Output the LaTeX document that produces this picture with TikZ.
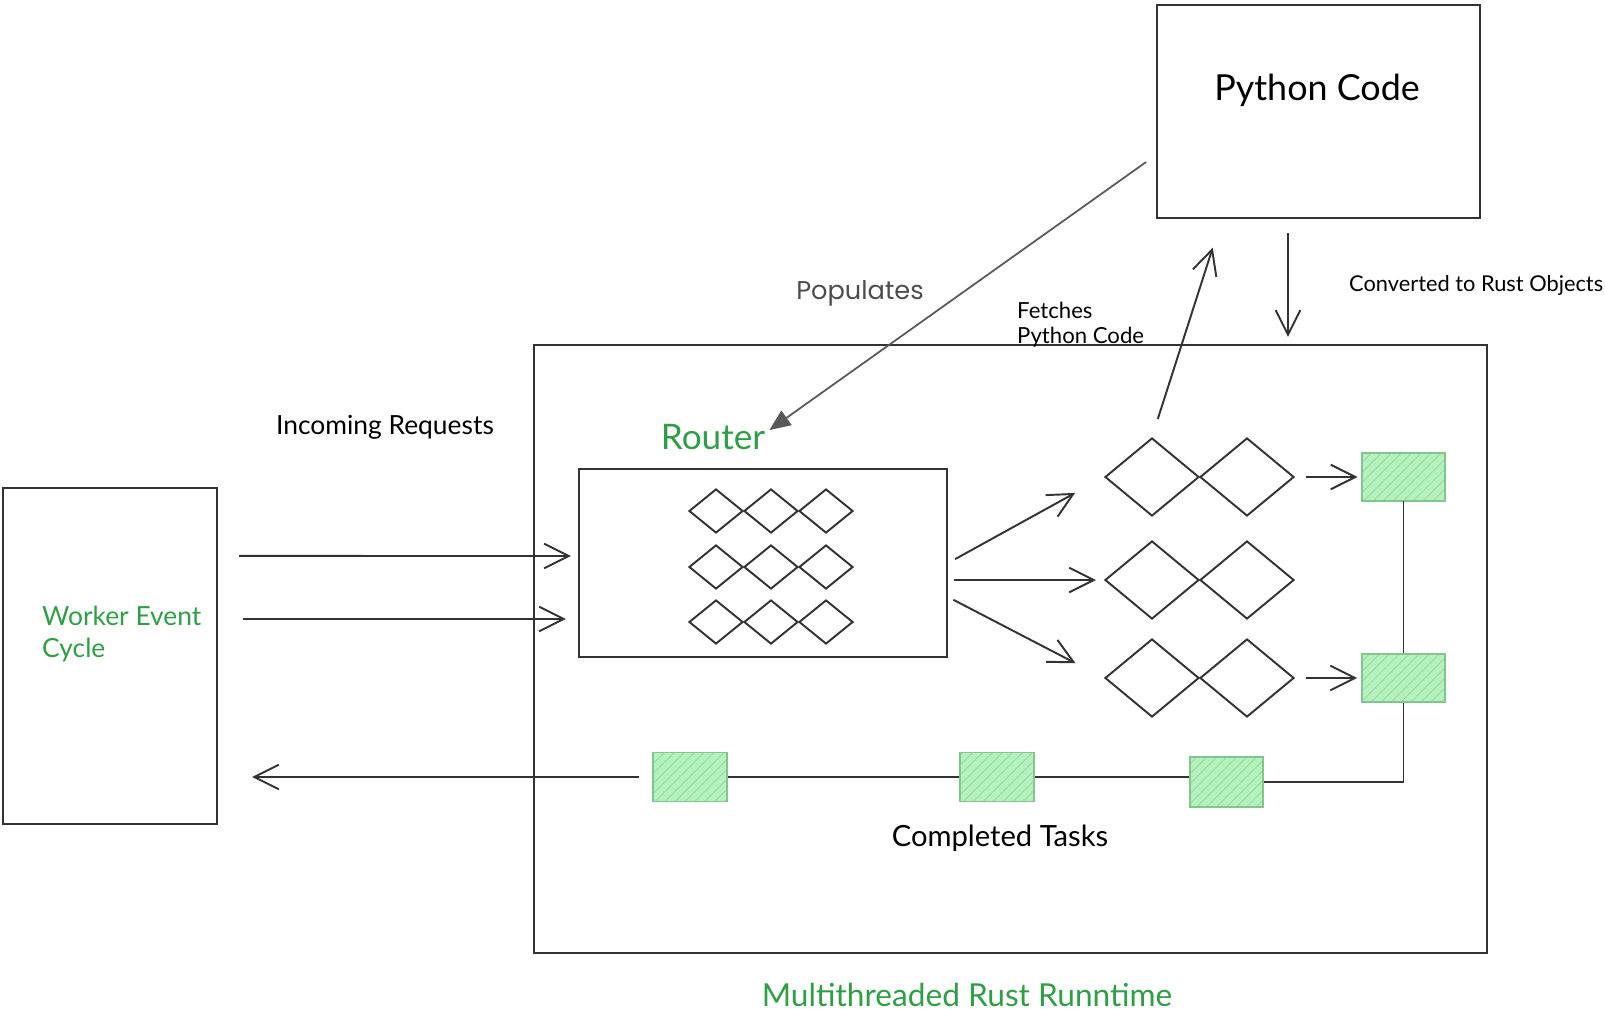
\documentclass[tikz,border=0pt]{standalone}
\usepackage{fontspec}
\setmainfont{Lato}
\newfontfamily\popfont{Poppins}
\usetikzlibrary{shapes.geometric,arrows.meta,patterns.meta}

\definecolor{exgreen}{HTML}{2F9E44}
\definecolor{exfill}{HTML}{B2F2BB}

\begin{document}
\begin{tikzpicture}[x=0.01cm, y=-0.01cm,
    frame/.style={draw=black!80, line width=0.55pt, inner sep=0pt},
    dia/.style={diamond, draw=black!80, line width=0.55pt, inner sep=0pt, minimum width=0.54cm, minimum height=0.44cm},
    bigdia/.style={dia, minimum width=0.94cm, minimum height=0.78cm},
    task/.style={draw=exgreen!60, line width=0.5pt, inner sep=0pt, preaction={fill=exfill},
        pattern={Lines[angle=45,distance=2pt,line width=0.25pt]}, pattern color=exgreen!45},
    link/.style={draw=black!80, line width=0.55pt},
    arr/.style={link, -{Straight Barb[length=7pt,width=7pt]}},
    poparr/.style={draw=black!65, line width=0.5pt, -{Triangle[length=6pt,width=5pt]}},
    txt/.style={inner sep=1pt, font=\fontsize{#1}{#1}\selectfont}]
    \useasboundingbox (0,0) rectangle (1605,1009);

    % boxes
    \node[frame, minimum width=2.14cm, minimum height=3.36cm] (worker) at (110,656) {};
    \node[anchor=west, align=left, text=exgreen, inner sep=1pt, font=\fontsize{7.5}{9.2}\selectfont] (wlabel) at (38,634) {Worker Event\\Cycle};
    \node[frame, minimum width=3.23cm, minimum height=2.13cm] (python) at (1318.5,111.5) {};
    \node[txt=10.2] (ptitle) at (1317,90) {Python Code};
    \node[frame, minimum width=9.53cm, minimum height=6.08cm] (runtime) at (1010.5,649) {};
    \node[txt=9, text=exgreen] (rtitle) at (967,995) {Multithreaded Rust Runntime};
    \node[frame, minimum width=3.68cm, minimum height=1.88cm] (router) at (763,563) {};
    \node[txt=10, text=exgreen] (rlabel) at (713,437) {Router};

    % router queue
    \foreach \y [count=\i] in {511,567,622}
        \foreach \x [count=\j] in {716,771,826}
            \node[dia] (r\i\j) at (\x,\y) {};

    % worker threads
    \foreach \y [count=\i] in {477,580,678} {
        \node[bigdia] (d\i1) at (1152,\y) {};
        \node[bigdia] (d\i2) at (1247,\y) {};
    }

    % finished tasks
    \node[task, minimum width=0.83cm, minimum height=0.48cm] (t1) at (1403.5,477) {};
    \node[task, minimum width=0.83cm, minimum height=0.48cm] (t2) at (1403.5,678) {};
    \node[task, minimum width=0.73cm, minimum height=0.50cm] (b3) at (1226.5,782) {};
    \node[task, minimum width=0.74cm, minimum height=0.49cm] (b2) at (997,777) {};
    \node[task, minimum width=0.74cm, minimum height=0.49cm] (b1) at (690,777) {};

    \draw[arr, shorten <=0.11cm, shorten >=0.04cm] (d12) -- (t1);
    \draw[arr, shorten <=0.11cm, shorten >=0.04cm] (d32) -- (t2);
    \draw[link] (t1) -- (t2);
    \draw[link] (t2.south) |- (b3.east);
    \draw[link] (b2) -- (b2 -| b3.west);
    \draw[link] (b2) -- (b1);
    \draw[arr, shorten <=0.13cm, shorten >=0.34cm] (b1.west) -- (worker.east |- b1.west);

    % requests in
    \draw[arr, shorten <=0.21cm, shorten >=0.07cm] ([yshift=1cm]worker.east) -- ([yshift=0.07cm]router.west);
    \draw[arr, shorten <=0.25cm, shorten >=0.12cm] ([yshift=0.37cm]worker.east) -- ([yshift=-0.56cm]router.west);

    % router out
    \draw[arr, shorten <=0.08cm, shorten >=0.33cm] (router.east) -- (d11.west);
    \draw[arr, shorten <=0.06cm, shorten >=0.08cm] ([yshift=-0.17cm]router.east) -- (d21.west);
    \draw[arr, shorten <=0.06cm, shorten >=0.32cm] ([yshift=-0.34cm]router.east) -- (d31.west);

    % python side
    \draw[arr, shorten <=0.19cm, shorten >=0.30cm] (d11.north) -- ([xshift=-0.965cm]python.south);
    \draw[arr, shorten <=0.14cm, shorten >=0.07cm] ([xshift=-0.305cm]python.south) -- ([xshift=-0.305cm]python.south |- runtime.north);
    \draw[poparr, shorten <=0.12cm] ([yshift=-0.435cm]python.west) -- ([yshift=-0.1cm]rlabel.north east);

    % labels
    \node[txt=6.2, anchor=west] (conv) at (1345,285) {Converted to Rust Objects};
    \node[anchor=west, align=left, inner sep=1pt, font=\fontsize{6.3}{7.2}\selectfont] (fetch) at (1013,325) {Fetches\\Python Code};
    \node[inner sep=1pt, text=black!70, font=\popfont\fontsize{7.3}{7.3}\selectfont] (pop) at (860,293) {Populates};
    \node[txt=7.5] (inreq) at (385,427) {Incoming Requests};
    \node[txt=8.3] (done) at (1000,838) {Completed Tasks};
\end{tikzpicture}
\end{document}
